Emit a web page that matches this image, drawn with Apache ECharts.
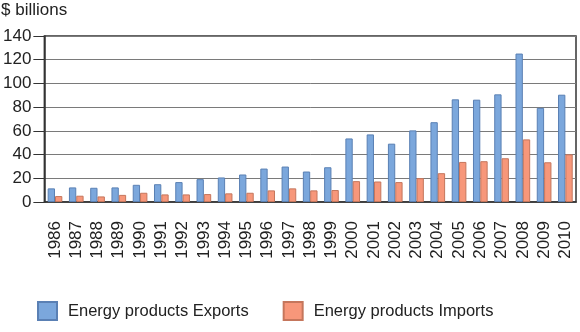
<!DOCTYPE html>
<html>
<head>
<meta charset="utf-8">
<script src="https://cdn.jsdelivr.net/npm/echarts@6/dist/echarts.min.js"></script>
<style>
  html, body { margin: 0; padding: 0; background: #fff; }
  #chart { width: 580px; height: 332px; }
</style>
</head>
<body>
<div id="chart"></div>
<script>
// values, $ billions
const years = ['1986', '1987', '1988', '1989', '1990', '1991', '1992', '1993', '1994', '1995',
  '1996', '1997', '1998', '1999', '2000', '2001', '2002', '2003', '2004', '2005',
  '2006', '2007', '2008', '2009', '2010'];
const exportsValues = [11.5, 12.3, 12, 12.3, 14.5, 15, 16.8, 19.3, 20.7, 23.2,
  28.2, 29.9, 25.7, 29.3, 53.6, 57, 49.2, 60.4, 67.3, 86.6,
  86.3, 90.8, 125.2, 79.4, 90.5];
const importsValues = [5, 5.3, 4.7, 6, 7.8, 6.4, 6.4, 6.7, 7.3, 7.8,
  9.8, 11.5, 9.8, 10.1, 17.6, 17.3, 16.8, 20.1, 24.3, 33.8,
  34.4, 36.9, 52.8, 33.5, 40.2];
const seriesNames = ['Energy products Exports', 'Energy products Imports'];

const font = 'Liberation Sans, Arial, sans-serif';
const inst = echarts.init(document.getElementById('chart'), null, { width: 580, height: 332 });

inst.setOption({
  animation: false,
  textStyle: { fontFamily: font, color: '#222' },
  title: {
    text: '$ billions',
    left: 0, top: 0, padding: [2, 0, 0, 1],
    textStyle: { fontFamily: font, fontSize: 17, fontWeight: 'normal', color: '#222' }
  },
  grid: {
    left: 44, right: 4, top: 36, bottom: 130,
    show: true, borderColor: '#333', borderWidth: 1.5, backgroundColor: 'transparent'
  },
  legend: {
    left: 32, top: 296,
    itemWidth: 19, itemHeight: 18, itemGap: 34,
    icon: 'rect',
    textStyle: { fontFamily: font, fontSize: 16.5, color: '#222', padding: [0, 0, 0, 6] },
    data: seriesNames
  },
  xAxis: {
    type: 'category',
    data: years,
    axisLine: { lineStyle: { color: '#333', width: 1.5 } },
    axisTick: { length: 11, lineStyle: { color: '#333' } },
    axisLabel: { rotate: 90, margin: 19, fontSize: 17, color: '#222', interval: 0 }
  },
  yAxis: {
    type: 'value',
    min: 0, max: 140, interval: 20,
    axisLine: { show: true, lineStyle: { color: '#333', width: 1.5 } },
    axisTick: { show: true, length: 11, lineStyle: { color: '#333' } },
    axisLabel: { margin: 13, fontSize: 17, color: '#222' },
    splitLine: { lineStyle: { color: '#7a7a7a', width: 1 } }
  },
  series: [
    {
      name: seriesNames[0], type: 'bar', data: exportsValues,
      barGap: '0%', barCategoryGap: '31%',
      itemStyle: { color: '#7ba7dc', borderColor: '#5a80b4', borderWidth: 1 }
    },
    {
      name: seriesNames[1], type: 'bar', data: importsValues,
      itemStyle: { color: '#f7977a', borderColor: '#c5765c', borderWidth: 1 }
    }
  ]
});
</script>
</body>
</html>
